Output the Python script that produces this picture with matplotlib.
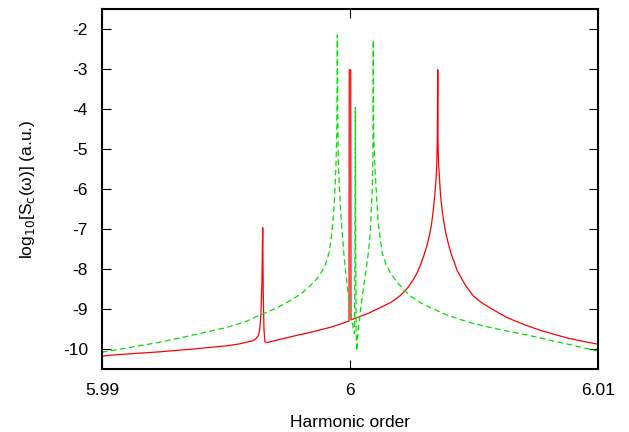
import matplotlib
matplotlib.use("Agg")
import matplotlib.pyplot as plt

plt.rcParams["font.family"] = ["Liberation Sans", "DejaVu Sans"]

# red series (solid line)
red_x = [5.99000, 5.99044, 5.99113, 5.99234, 5.99368, 5.99503, 5.99556,
         5.99610, 5.99621, 5.99630, 5.99634, 5.99637, 5.99641, 5.99645,
         5.99648, 5.99650, 5.99653, 5.99657, 5.99664, 5.99718, 5.99771,
         5.99843, 5.99919, 5.99960, 5.99996, 5.99997, 6.00003, 6.00004,
         6.00013, 6.00073, 6.00121, 6.00169, 6.00202, 6.00234, 6.00254,
         6.00270, 6.00286, 6.00298, 6.00311, 6.00321, 6.00329, 6.00336,
         6.00342, 6.00347, 6.00350, 6.00352, 6.00354, 6.00355, 6.00357,
         6.00361, 6.00365, 6.00371, 6.00379, 6.00387, 6.00397, 6.00409,
         6.00421, 6.00431, 6.00448, 6.00468, 6.00497, 6.00528, 6.00564,
         6.00632, 6.00698, 6.00766, 6.00827, 6.00880, 6.00940, 6.01000]
red_y = [-10.18, -10.15, -10.12, -10.07, -10.00, -9.92, -9.87,
         -9.79, -9.74, -9.67, -9.58, -9.45, -9.10, -8.30,
         -6.97, -8.50, -9.50, -9.82, -9.84, -9.76, -9.68,
         -9.58, -9.46, -9.38, -9.30, -3.02, -3.02, -9.27,
         -9.25, -9.11, -8.97, -8.82, -8.67, -8.46, -8.28,
         -8.10, -7.87, -7.66, -7.40, -7.14, -6.87, -6.52,
         -6.15, -5.75, -5.35, -4.80, -3.02, -4.80, -5.35,
         -5.75, -6.15, -6.50, -6.85, -7.12, -7.38, -7.64,
         -7.84, -8.02, -8.22, -8.43, -8.67, -8.83, -8.97,
         -9.21, -9.38, -9.53, -9.64, -9.73, -9.81, -9.88]

# green series (dashed line)
green_x = [5.99000, 5.99113, 5.99234, 5.99368, 5.99503, 5.99577, 5.99637,
           5.99706, 5.99771, 5.99806, 5.99839, 5.99863, 5.99883, 5.99897,
           5.99907, 5.99915, 5.99923, 5.99929, 5.99935, 5.99940, 5.99944,
           5.99947, 5.99949, 5.99951, 5.99953, 5.99957, 5.99962, 5.99966,
           5.99972, 5.99977, 5.99984, 5.99992, 6.00000, 6.00008, 6.00014,
           6.000182, 6.000206, 6.000214, 6.000226, 6.000250, 6.000270,
           6.00032, 6.00040, 6.00048, 6.00056, 6.00064, 6.00071, 6.00078,
           6.00083, 6.00086, 6.00090, 6.00092, 6.00093, 6.00094, 6.00095,
           6.00097, 6.00101, 6.00107, 6.00114, 6.00122, 6.00130, 6.00145,
           6.00161, 6.00186, 6.00214, 6.00242, 6.00286, 6.00336, 6.00387,
           6.00444, 6.00497, 6.00564, 6.00632, 6.00698, 6.00766, 6.00827,
           6.00880, 6.00940, 6.01000]
green_y = [-10.08, -9.96, -9.83, -9.65, -9.46, -9.32, -9.15,
           -8.97, -8.75, -8.60, -8.42, -8.27, -8.10, -7.95,
           -7.78, -7.60, -7.30, -6.95, -6.50, -5.95, -5.30,
           -4.50, -2.15, -4.50, -5.30, -5.95, -6.50, -6.90,
           -7.35, -7.75, -8.15, -8.60, -8.95, -9.30, -9.50,
           -9.62, -6.50, -3.96, -7.00, -9.50, -10.05,
           -9.60, -9.15, -8.75, -8.40, -8.05, -7.75, -7.35,
           -6.95, -6.50, -5.95, -5.30, -4.50, -2.28, -4.50,
           -4.90, -5.50, -6.20, -6.85, -7.25, -7.60, -7.88,
           -8.08, -8.30, -8.50, -8.67, -8.85, -9.00, -9.14,
           -9.26, -9.36, -9.46, -9.55, -9.63, -9.72, -9.81,
           -9.88, -9.97, -10.05]

x_ticks = [5.99, 6.0, 6.01]
x_tick_labels = ["5.99", "6", "6.01"]
y_ticks = [-2, -3, -4, -5, -6, -7, -8, -9, -10]

fig = plt.figure(figsize=(6.29, 4.32), dpi=100)
ax = fig.add_axes([102 / 629, 1 - 369 / 432, 496 / 629, 360 / 432])

ax.plot(red_x, red_y, color="#ff0000", linewidth=0.9)
ax.plot(green_x, green_y, color="#00e000", linewidth=0.9, dashes=(4.5, 2.8))

ax.set_xlim(5.99, 6.01)
ax.set_ylim(-10.5, -1.5)
ax.set_xticks(x_ticks)
ax.set_xticklabels(x_tick_labels)
ax.set_yticks(y_ticks)
ax.set_yticklabels([str(v) for v in y_ticks])

ax.tick_params(direction="in", length=6.5, width=0.8, top=True, right=True,
               labelsize=12.5, pad=10, colors="black")
for sp in ax.spines.values():
    sp.set_linewidth(1.5)

ax.set_xlabel("Harmonic order", fontsize=12.5, labelpad=12)
ax.set_ylabel("log$_{10}$[S$_{\\rm c}$(ω)] (a.u.)", fontsize=12.5, labelpad=19)

fig.savefig("out.png", dpi=100)
